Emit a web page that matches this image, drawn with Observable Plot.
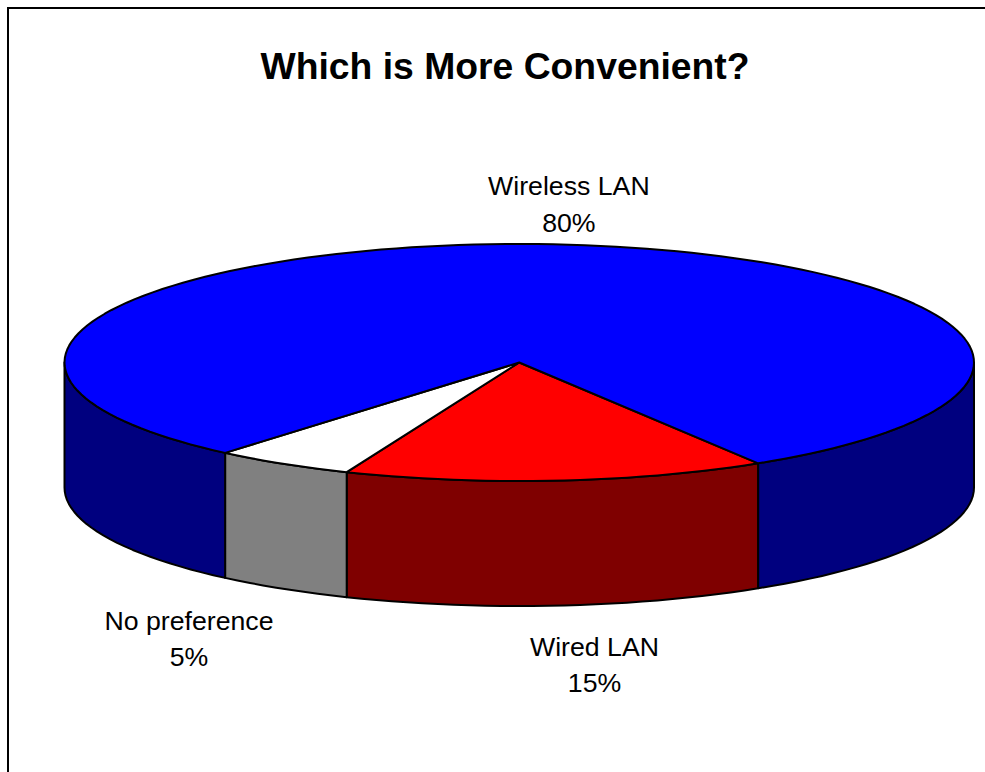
<!DOCTYPE html>
<html>
<head>
<meta charset="utf-8">
<script src="https://cdn.jsdelivr.net/npm/d3@7"></script>
<script src="https://cdn.jsdelivr.net/npm/@observablehq/plot@0.6"></script>
<style>
  html, body { margin: 0; padding: 0; background: #fff; overflow: hidden; }
  #chart { position: absolute; left: 0; top: 0; width: 985px; height: 772px; }
  #chart svg { display: block; }
  #frame { position: absolute; left: 7px; top: 7px; right: 0; bottom: 0; width: 978px; height: 765px;
           border-left: 2px solid #000; border-top: 2px solid #000; box-sizing: border-box; pointer-events: none; }
</style>
</head>
<body>
<div id="chart"></div>
<div id="frame"></div>
<script>
const title = "Which is More Convenient?";
const categories = ["Wired LAN", "No preference", "Wireless LAN"];
const shares = [15, 5, 80];
const topColors = ["#ff0000", "#ffffff", "#0000ff"];
const wallColors = ["#7f0000", "#808080", "#00007f"];

// layout of the tilted pie, in the units of the x and y scales
const startAngle = 58.3;      // degrees, clockwise from the right
const depth = 125 / 118.5;    // wall height relative to the ellipse's vertical radius
const labelDx = [38, -94, 15.5];
const labelDy = [182, 172.5, -42.5];

const rim = (deg, drop = 0) => ({
  x: Math.cos(deg * Math.PI / 180),
  y: Math.sin(deg * Math.PI / 180) + drop
});
const arc = (a0, a1, drop = 0) => {
  const n = Math.max(1, Math.round(Math.abs(a1 - a0) / 2));
  return d3.range(n + 1).map(i => rim(a0 + (a1 - a0) * i / n, drop));
};

const total = d3.sum(shares);
let acc = startAngle;
const slices = categories.map((name, i) => {
  const a0 = acc;
  const a1 = acc + shares[i] / total * 360;
  acc = a1;
  return {name, share: shares[i], a0, a1, top: topColors[i], wall: wallColors[i]};
});

// faces: walls show only where the rim faces the viewer (0 to 180 degrees, mod 360)
const faces = [];
const addFace = (id, color, pts) => {
  pts.concat(pts[0]).forEach(p => faces.push({id, color, x: p.x, y: p.y}));
};
slices.forEach(s => {
  [[s.a0, s.a1], [s.a0 - 360, s.a1 - 360]].forEach(([a0, a1], k) => {
    const lo = Math.max(a0, 0), hi = Math.min(a1, 180);
    if (hi > lo) addFace(`wall-${s.name}-${k}`, s.wall, [...arc(lo, hi), ...arc(hi, lo, depth)]);
  });
});
slices.forEach(s => {
  addFace(`top-${s.name}`, s.top, [{x: 0, y: 0}, ...arc(s.a0, s.a1)]);
});

const labels = slices.map((s, i) => {
  const mid = (s.a0 + s.a1) / 2;
  const p = rim(mid);
  return {...p, text: `${s.name}\n${s.share}%`, dx: labelDx[i], dy: labelDy[i]};
});

const chart = Plot.plot({
  width: 985,
  height: 772,
  margin: 0,
  style: {background: "transparent", fontFamily: "'Liberation Sans', Arial, sans-serif"},
  x: {domain: [-1, 1], range: [64, 973.5], axis: null},
  y: {domain: [-1, 1], range: [243.5, 480.5], axis: null},
  color: {type: "identity"},
  marks: [
    Plot.line(faces, {
      x: "x", y: "y", z: "id", fill: "color",
      stroke: "#000", strokeWidth: 2, strokeLinejoin: "round", curve: "linear"
    }),
    ...labels.map(d => Plot.text([d], {
      x: "x", y: "y", text: "text", dx: d.dx, dy: d.dy,
      fontSize: 26.7, lineHeight: 1.36, fill: "#000"
    })),
    Plot.text([title], {
      frameAnchor: "top", dx: 12, dy: 67, text: d => d,
      fontSize: 37.3, fontWeight: "bold", fill: "#000", lineAnchor: "middle"
    })
  ]
});
document.getElementById("chart").appendChild(chart);
</script>
</body>
</html>
